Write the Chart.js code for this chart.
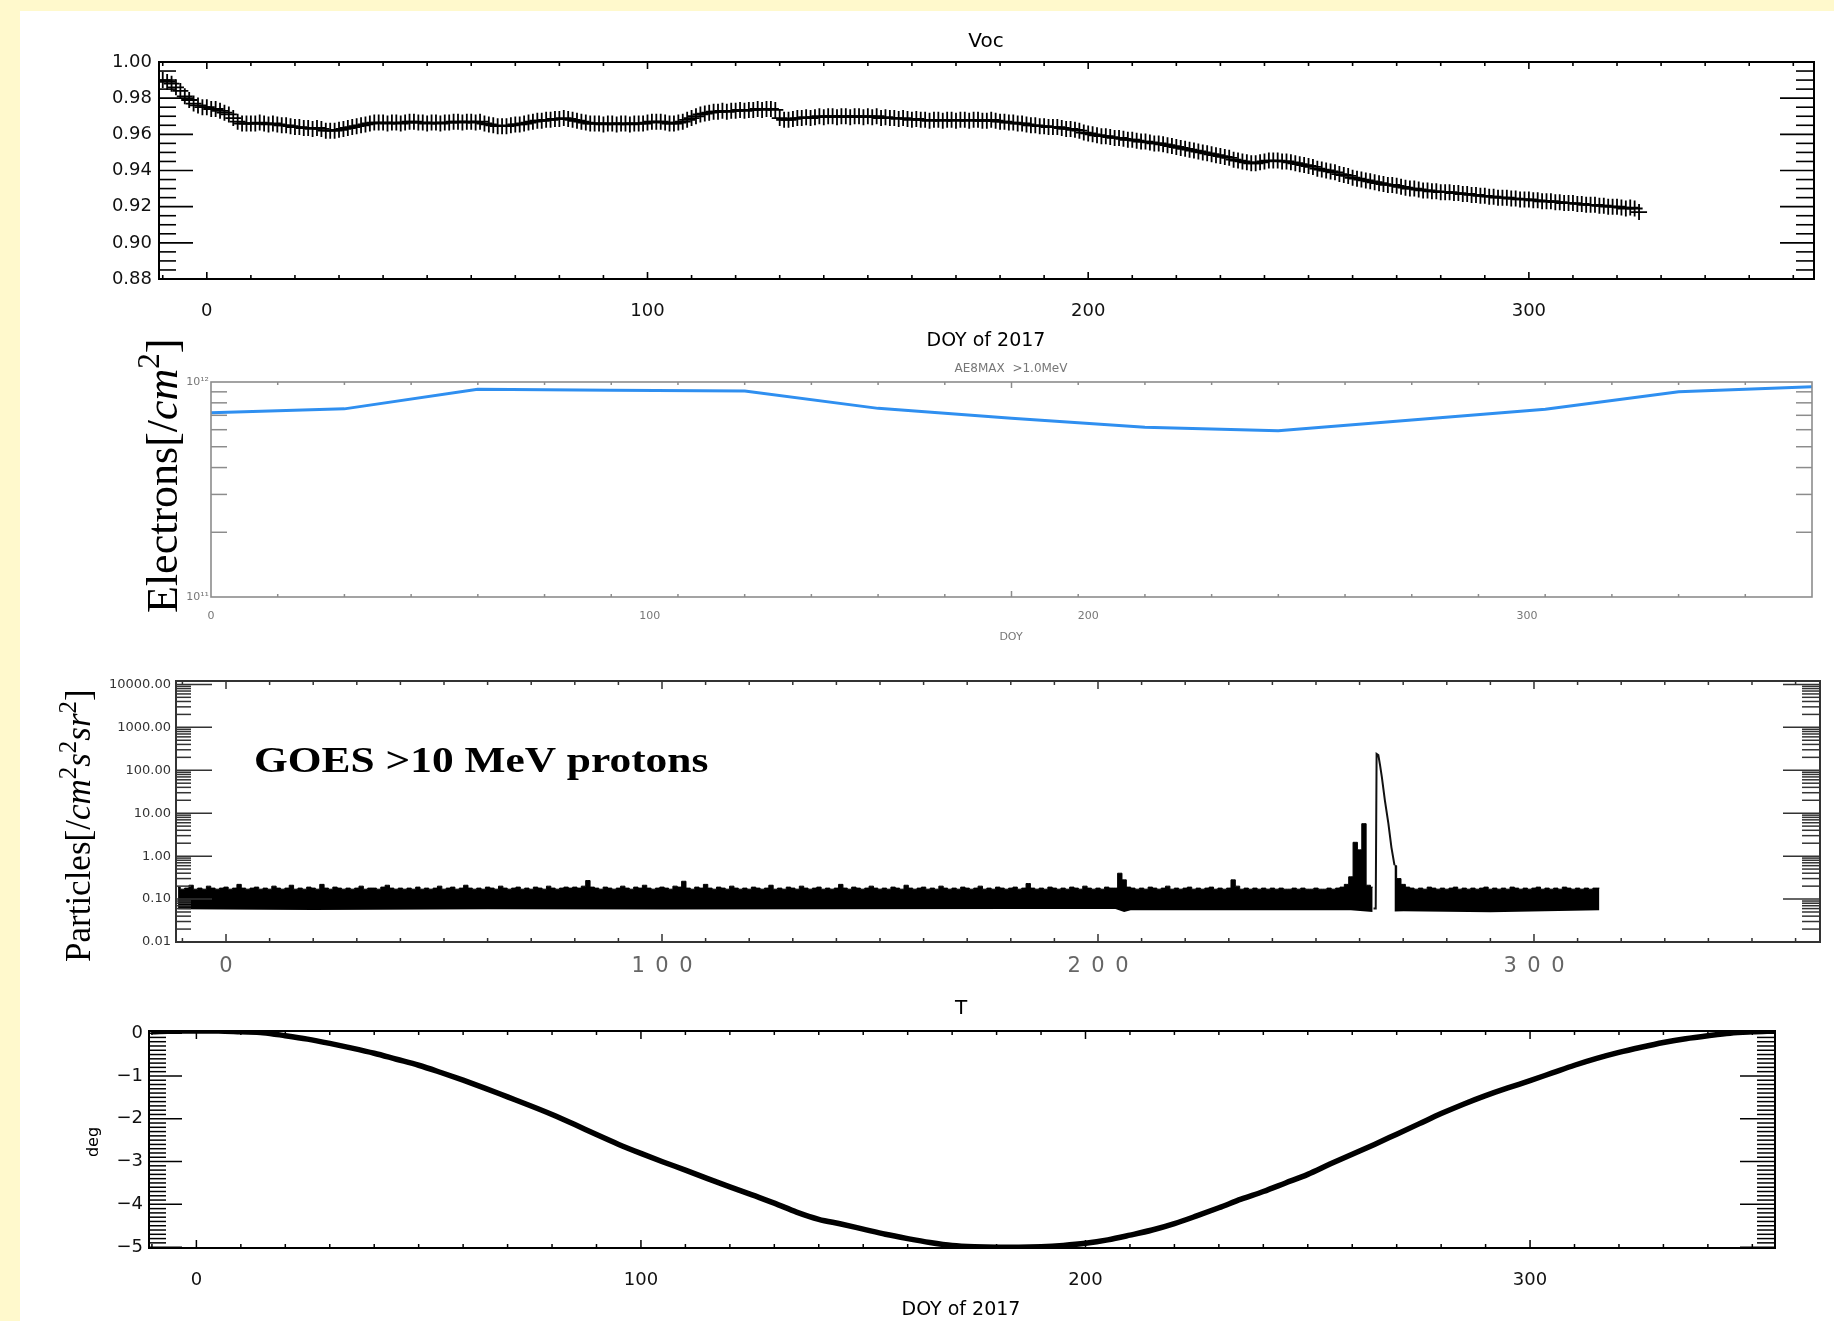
<!DOCTYPE html>
<html>
<head>
<meta charset="utf-8">
<title>Voc, AE8MAX, GOES protons and T over DOY 2017</title>
<script src="https://cdn.jsdelivr.net/npm/chart.js@4.4.1/dist/chart.umd.min.js"></script>
<style>
  html, body { margin: 0; padding: 0; background: #fff; }
  #page { position: relative; width: 1834px; height: 1321px; background: #fff; overflow: hidden; }
  .strip { position: absolute; background: #fff9cc; }
  canvas { position: absolute; left: 0; top: 0; }
</style>
</head>
<body>
<div id="page">
  <div class="strip" style="left:0;top:0;width:1834px;height:11px"></div>
  <div class="strip" style="left:0;top:0;width:20px;height:1321px"></div>
  <canvas id="vocChart" width="1834" height="1321"></canvas>
  <canvas id="aeChart" width="1834" height="1321"></canvas>
  <canvas id="goesChart" width="1834" height="1321"></canvas>
  <canvas id="tChart" width="1834" height="1321"></canvas>
</div>
<script>
// ---- data ----

// Voc, one value per day starting at DOY -10
const vocFirstDoy = -10;
const vocValues = [
  0.990, 0.989, 0.988, 0.986, 0.984, 0.981, 0.979, 0.977, 0.976, 0.975,
  0.975, 0.974, 0.974, 0.973, 0.972, 0.971, 0.969, 0.967, 0.966, 0.966,
  0.966, 0.966, 0.9665, 0.966, 0.9655, 0.966, 0.9655, 0.965, 0.965, 0.9645,
  0.964, 0.964, 0.9635, 0.9635, 0.963, 0.9635, 0.963, 0.962, 0.962, 0.962,
  0.9625, 0.963, 0.9635, 0.964, 0.9645, 0.965, 0.9655, 0.966, 0.9665, 0.9665,
  0.9665, 0.966, 0.9665, 0.9665, 0.966, 0.9665, 0.967, 0.967, 0.9665, 0.9665,
  0.966, 0.9665, 0.9665, 0.966, 0.9665, 0.9665, 0.967, 0.967, 0.9665, 0.967,
  0.967, 0.9665, 0.967, 0.966, 0.9655, 0.965, 0.9645, 0.9645, 0.9645, 0.965,
  0.9655, 0.9655, 0.966, 0.9665, 0.967, 0.9675, 0.9675, 0.968, 0.968, 0.9685,
  0.9685, 0.969, 0.9685, 0.968, 0.9675, 0.967, 0.9665, 0.966, 0.966, 0.966,
  0.9655, 0.966, 0.966, 0.9655, 0.966, 0.966, 0.9655, 0.966, 0.966, 0.966,
  0.9665, 0.967, 0.967, 0.967, 0.9665, 0.966, 0.966, 0.9665, 0.967, 0.968,
  0.969, 0.970, 0.971, 0.9715, 0.972, 0.9725, 0.9725, 0.973, 0.9725, 0.973,
  0.973, 0.9735, 0.973, 0.9735, 0.9735, 0.974, 0.9735, 0.974, 0.974, 0.9735,
  0.969, 0.968, 0.968, 0.9685, 0.969, 0.969, 0.9695, 0.969, 0.9695, 0.970,
  0.9695, 0.970, 0.970, 0.9695, 0.970, 0.970, 0.9695, 0.970, 0.970, 0.9695,
  0.970, 0.9695, 0.970, 0.969, 0.9695, 0.969, 0.969, 0.9685, 0.969, 0.9685,
  0.968, 0.9685, 0.968, 0.968, 0.9675, 0.968, 0.968, 0.9675, 0.968, 0.968,
  0.9675, 0.968, 0.968, 0.9675, 0.968, 0.968, 0.9675, 0.9675, 0.968, 0.9675,
  0.967, 0.967, 0.9665, 0.9665, 0.966, 0.966, 0.9655, 0.965, 0.965, 0.9645,
  0.9645, 0.964, 0.964, 0.964, 0.9635, 0.963, 0.963, 0.9625, 0.962, 0.961,
  0.9605, 0.960, 0.9595, 0.959, 0.959, 0.9585, 0.958, 0.958, 0.9575, 0.957,
  0.957, 0.9565, 0.956, 0.956, 0.9555, 0.955, 0.955, 0.9545, 0.954, 0.9535,
  0.953, 0.9525, 0.952, 0.9515, 0.951, 0.9505, 0.950, 0.9495, 0.949, 0.9485,
  0.948, 0.9475, 0.947, 0.946, 0.9455, 0.945, 0.9445, 0.944, 0.944, 0.9445,
  0.945, 0.9455, 0.9455, 0.9455, 0.945, 0.945, 0.9445, 0.944, 0.9435, 0.943,
  0.9425, 0.942, 0.941, 0.9405, 0.940, 0.9395, 0.939, 0.938, 0.9375, 0.937,
  0.936, 0.9355, 0.935, 0.9345, 0.934, 0.9335, 0.933, 0.9325, 0.932, 0.932,
  0.9315, 0.931, 0.9305, 0.930, 0.930, 0.9295, 0.929, 0.929, 0.9285, 0.9285,
  0.928, 0.928, 0.928, 0.9275, 0.9275, 0.927, 0.927, 0.9265, 0.9265, 0.926,
  0.926, 0.9255, 0.9255, 0.925, 0.925, 0.925, 0.9245, 0.9245, 0.924, 0.924,
  0.924, 0.9235, 0.9235, 0.923, 0.923, 0.923, 0.9225, 0.9225, 0.922, 0.922,
  0.922, 0.9215, 0.9215, 0.921, 0.921, 0.921, 0.9205, 0.9205, 0.920, 0.920,
  0.920, 0.9195, 0.919, 0.9195, 0.919, 0.917
];
const vocTickValues = [0.88, 0.90, 0.92, 0.94, 0.96, 0.98, 1.00];
const vocTickLabels = ['0.88', '0.90', '0.92', '0.94', '0.96', '0.98', '1.00'];

// AE8MAX >1.0 MeV electron fluence, monthly knots
const aeDoy = [0, 30.4, 60.8, 91.25, 121.7, 152.1, 182.5, 212.9, 243.3, 273.75, 304.2, 334.6, 365];
const aeFlux = [7.2e11, 7.5e11, 9.25e11, 9.15e11, 9.07e11, 7.54e11, 6.78e11, 6.16e11, 5.94e11, 6.66e11, 7.47e11, 9.0e11, 9.5e11];
const aeTickValues = [1e11, 1e12];
const aeTickLabels = ['10\u00b9\u00b9', '10\u00b9\u00b2'];

// GOES >10 MeV protons: daily maximum from DOY -11 (null where only the event trace is shown)
const goesFirstDoy = -11;
const goesHigh = [
  0.19, 0.17, 0.18, 0.21, 0.17, 0.18, 0.17, 0.20, 0.18, 0.17,
  0.18, 0.19, 0.17, 0.18, 0.22, 0.18, 0.17, 0.18, 0.19, 0.17,
  0.18, 0.17, 0.20, 0.18, 0.17, 0.18, 0.21, 0.17, 0.18, 0.17,
  0.19, 0.18, 0.17, 0.22, 0.18, 0.17, 0.19, 0.18, 0.17, 0.18,
  0.17, 0.18, 0.20, 0.17, 0.18, 0.18, 0.17, 0.19, 0.21, 0.18,
  0.17, 0.18, 0.17, 0.18, 0.17, 0.19, 0.17, 0.18, 0.17, 0.18,
  0.20, 0.17, 0.18, 0.19, 0.17, 0.18, 0.21, 0.18, 0.17, 0.18,
  0.17, 0.19, 0.18, 0.17, 0.20, 0.18, 0.17, 0.18, 0.19, 0.17,
  0.18, 0.17, 0.19, 0.18, 0.17, 0.20, 0.18, 0.17, 0.18, 0.19,
  0.18, 0.19, 0.18, 0.20, 0.27, 0.19, 0.18, 0.17, 0.19, 0.18,
  0.17, 0.18, 0.20, 0.18, 0.17, 0.19, 0.18, 0.21, 0.18, 0.17,
  0.18, 0.19, 0.18, 0.17, 0.20, 0.19, 0.26, 0.18, 0.17, 0.19,
  0.18, 0.22, 0.18, 0.17, 0.19, 0.18, 0.17, 0.20, 0.18, 0.17,
  0.18, 0.17, 0.19, 0.18, 0.17, 0.18, 0.21, 0.17, 0.18, 0.17,
  0.19, 0.18, 0.17, 0.20, 0.18, 0.17, 0.18, 0.19, 0.17, 0.18,
  0.17, 0.18, 0.22, 0.18, 0.17, 0.19, 0.18, 0.17, 0.18, 0.20,
  0.18, 0.17, 0.18, 0.17, 0.19, 0.18, 0.17, 0.21, 0.18, 0.17,
  0.18, 0.19, 0.17, 0.18, 0.17, 0.20, 0.18, 0.17, 0.18, 0.17,
  0.19, 0.18, 0.17, 0.18, 0.20, 0.17, 0.18, 0.17, 0.19, 0.18,
  0.17, 0.18, 0.19, 0.17, 0.18, 0.23, 0.18, 0.17, 0.18, 0.17,
  0.19, 0.18, 0.17, 0.18, 0.17, 0.19, 0.18, 0.17, 0.20, 0.18,
  0.17, 0.18, 0.17, 0.19, 0.18, 0.18, 0.40, 0.28, 0.19, 0.18,
  0.17, 0.18, 0.17, 0.19, 0.18, 0.17, 0.18, 0.20, 0.17, 0.18,
  0.17, 0.18, 0.19, 0.17, 0.18, 0.17, 0.18, 0.19, 0.17, 0.18,
  0.17, 0.18, 0.28, 0.20, 0.17, 0.18, 0.17, 0.18, 0.17, 0.18,
  0.17, 0.18, 0.17, 0.18, 0.17, 0.17, 0.18, 0.17, 0.18, 0.17,
  0.17, 0.18, 0.17, 0.17, 0.18, 0.17, 0.18, 0.19, 0.22, 0.33,
  2.1, 1.4, 5.7, 0.21, 0.19, null, null, null, null, 0.60,
  0.30, 0.22, 0.19, 0.18, 0.17, 0.18, 0.17, 0.19, 0.18, 0.17,
  0.18, 0.17, 0.18, 0.19, 0.17, 0.18, 0.17, 0.18, 0.17, 0.18,
  0.19, 0.17, 0.18, 0.17, 0.18, 0.17, 0.19, 0.18, 0.17, 0.18,
  0.17, 0.18, 0.19, 0.17, 0.18, 0.17, 0.18, 0.17, 0.19, 0.18,
  0.17, 0.18, 0.17, 0.18, 0.17, 0.18, 0.18
];
// lower edge of the background band
const goesLowDoy = [-11, 20, 60, 100, 140, 180, 204, 206, 207.5, 230, 258, 263, 270, 290, 315];
const goesLowFlux = [0.058, 0.056, 0.058, 0.057, 0.058, 0.059, 0.059, 0.050, 0.055, 0.055, 0.055, 0.050, 0.052, 0.049, 0.055];
// the proton event trace around DOY 264
const peakDoy = [263.2, 263.7, 263.9, 264.3, 264.7, 265.1, 265.8, 266.6, 267.3, 268.0];
const peakFlux = [0.06, 0.06, 240, 225, 130, 70, 20, 5.8, 1.6, 0.62];
const goesTickValues = [0.01, 0.1, 1, 10, 100, 1000, 10000];
const goesTickLabels = ['0.01', '0.10', '1.00', '10.00', '100.00', '1000.00', '10000.00'];

// T in degrees, every 5 days from DOY -10
const tFirstDoy = -10;
const tStep = 5;
const tValues = [
  0.03, 0.05, 0.05, 0.05, 0.03, 0.01, -0.06, -0.14, -0.24, -0.35,
  -0.47, -0.61, -0.75, -0.92, -1.10, -1.29, -1.49, -1.69, -1.90, -2.13,
  -2.37, -2.60, -2.81, -3.01, -3.20, -3.40, -3.59, -3.78, -3.97, -4.18,
  -4.35, -4.46, -4.58, -4.70, -4.80, -4.89, -4.96, -4.99, -5.00, -5.00,
  -4.99, -4.96, -4.91, -4.83, -4.72, -4.60, -4.45, -4.27, -4.08, -3.88,
  -3.70, -3.50, -3.30, -3.06, -2.83, -2.60, -2.36, -2.12, -1.88, -1.66,
  -1.46, -1.28, -1.11, -0.93, -0.75, -0.59, -0.45, -0.33, -0.22, -0.13,
  -0.06, 0.00, 0.03, 0.05
];
const tTickValues = [-5, -4, -3, -2, -1, 0];
const tTickLabels = ['\u22125', '\u22124', '\u22123', '\u22122', '\u22121', '0'];

const doyTickValues = [0, 100, 200, 300];
const doyTickLabels = ['0', '100', '200', '300'];

// ---- helpers ----
const PAGE_W = 1834, PAGE_H = 1321;
const IDL = '"DejaVu Sans", "Liberation Sans", sans-serif';
const SERIF = '"Liberation Serif", "DejaVu Serif", serif';

function steps(from, to, step) {
  const out = [];
  for (let v = from; v <= to + 1e-9; v += step) out.push(+v.toFixed(6));
  return out;
}
function isMultiple(v, step) {
  return Math.abs(v / step - Math.round(v / step)) < 1e-6;
}
function logMinors(fromExp, toExp) {
  const out = [];
  for (let e = fromExp; e < toExp; e++)
    for (let m = 2; m <= 9; m++) out.push(m * Math.pow(10, e));
  return out;
}

function axis(o) {
  return {
    type: o.type || 'linear',
    min: o.min,
    max: o.max,
    grid: { display: false, drawTicks: false },
    border: { display: false },
    afterBuildTicks: s => { s.ticks = o.values.map(v => ({ value: v })); },
    afterFit: s => { if (o.vertical) s.width = o.size; else s.height = o.size; },
    ticks: {
      autoSkip: false,
      maxRotation: 0,
      padding: o.padding,
      color: o.color,
      font: o.font,
      callback: (v, i) => o.format ? o.format(o.labels[i]) : o.labels[i]
    }
  };
}

function chartOptions(box, x, y) {
  return {
    responsive: false,
    animation: false,
    devicePixelRatio: 1,
    events: [],
    layout: { padding: { left: 0, top: box.top, right: PAGE_W - box.right, bottom: PAGE_H - box.bottom - box.xh } },
    plugins: { legend: { display: false }, tooltip: { enabled: false } },
    scales: { x, y }
  };
}

// box frame plus inward tick marks on all four sides
function framePlugin(f) {
  return {
    id: 'frame',
    afterDatasetsDraw(chart) {
      const { ctx, chartArea: a, scales: { x, y } } = chart;
      const seg = (x1, y1, x2, y2) => { ctx.beginPath(); ctx.moveTo(x1, y1); ctx.lineTo(x2, y2); ctx.stroke(); };
      ctx.save();
      ctx.strokeStyle = f.tickColor;
      ctx.lineWidth = f.tickWidth;
      for (const t of f.xTicks) {
        const px = x.getPixelForValue(t.v);
        if (px < a.left || px > a.right) continue;
        seg(px, a.bottom, px, a.bottom - t.len);
        seg(px, a.top, px, a.top + t.len);
      }
      for (const t of f.yTicks) {
        const py = y.getPixelForValue(t.v);
        if (py < a.top - 0.5 || py > a.bottom + 0.5) continue;
        seg(a.left, py, a.left + t.left, py);
        seg(a.right, py, a.right - t.right, py);
      }
      ctx.strokeStyle = f.frameColor;
      ctx.lineWidth = f.frameWidth;
      ctx.strokeRect(a.left, a.top, a.right - a.left, a.bottom - a.top);
      ctx.restore();
    }
  };
}

// free text: titles, axis names, annotation
function textPlugin(items) {
  return {
    id: 'texts',
    afterDraw(chart) {
      const ctx = chart.ctx;
      for (const it of items) {
        ctx.save();
        ctx.translate(it.x, it.y);
        if (it.rotate) ctx.rotate(it.rotate);
        if (it.hscale) ctx.scale(it.hscale, 1);
        ctx.textBaseline = it.baseline || 'alphabetic';
        ctx.textAlign = 'left';
        ctx.fillStyle = it.color || '#000';
        const parts = it.parts || [{ t: it.text }];
        let total = 0;
        for (const p of parts) { ctx.font = p.font || it.font; total += ctx.measureText(p.t).width; }
        let cx = it.align === 'center' ? -total / 2 : 0;
        for (const p of parts) {
          ctx.font = p.font || it.font;
          ctx.fillText(p.t, cx, p.dy || 0);
          cx += ctx.measureText(p.t).width;
        }
        ctx.restore();
      }
    }
  };
}

function dayTicks(from, to, minorLen, majorLen) {
  return steps(from, to, 10).map(v => ({ v, len: isMultiple(v, 100) ? majorLen : minorLen }));
}

// ---- panel 1: Voc ----
const vocBox = { left: 159, top: 62, right: 1814, bottom: 279, xh: 50 };
new Chart(document.getElementById('vocChart'), {
  type: 'line',
  data: {
    datasets: [{
      data: vocValues.map((v, i) => ({ x: vocFirstDoy + i, y: v })),
      showLine: false,
      pointStyle: 'cross',
      pointRadius: 8,
      pointBorderWidth: 1.8,
      pointBorderColor: '#000',
      borderColor: '#000'
    }]
  },
  options: chartOptions(vocBox,
    axis({ min: -10.85, max: 364.7, values: doyTickValues, labels: doyTickLabels, size: vocBox.xh,
           padding: 22, color: '#111', font: { family: IDL, size: 18 } }),
    axis({ min: 0.88, max: 1.0, values: vocTickValues, labels: vocTickLabels, size: vocBox.left, vertical: true,
           padding: 7, color: '#111', font: { family: IDL, size: 18 } })),
  plugins: [
    framePlugin({
      frameColor: '#000', frameWidth: 2, tickColor: '#000', tickWidth: 1.6,
      xTicks: dayTicks(-10, 360, 4, 7),
      yTicks: steps(0.88, 1.0, 0.005).map(v => isMultiple(v, 0.02) ? { v, left: 34, right: 34 } : { v, left: 17, right: 18 })
    }),
    textPlugin([
      { text: 'Voc', x: 986, y: 42, align: 'center', baseline: 'middle', font: '20px ' + IDL },
      { text: 'DOY of 2017', x: 986, y: 341, align: 'center', baseline: 'middle', font: '19px ' + IDL }
    ])
  ]
});

// ---- panel 2: AE8MAX electrons ----
const aeBox = { left: 211, top: 382, right: 1812, bottom: 597, xh: 30 };
new Chart(document.getElementById('aeChart'), {
  type: 'line',
  data: {
    datasets: [{
      data: aeDoy.map((d, i) => ({ x: d, y: aeFlux[i] })),
      borderColor: '#2f8ff0',
      borderWidth: 3,
      pointRadius: 0,
      tension: 0
    }]
  },
  options: chartOptions(aeBox,
    axis({ min: 0, max: 365, values: doyTickValues, labels: doyTickLabels, size: aeBox.xh,
           padding: 13, color: '#777', font: { family: IDL, size: 11 } }),
    axis({ type: 'logarithmic', min: 1e11, max: 1e12, values: aeTickValues, labels: aeTickLabels, size: aeBox.left,
           vertical: true, padding: 2, color: '#777', font: { family: IDL, size: 11 } })),
  plugins: [
    framePlugin({
      frameColor: '#8c8c8c', frameWidth: 1.6, tickColor: '#8c8c8c', tickWidth: 1.5,
      xTicks: steps(1, 23, 1).map(k => ({ v: k * 365 / 24, len: k === 12 ? 6 : 3 })),
      yTicks: logMinors(11, 12).map(v => ({ v, left: 16, right: 16 }))
    }),
    textPlugin([
      { text: 'AE8MAX  >1.0MeV', x: 1011, y: 369, align: 'center', baseline: 'middle', color: '#777', font: '12px ' + IDL },
      { text: 'DOY', x: 1011, y: 637, align: 'center', baseline: 'middle', color: '#777', font: '11px ' + IDL },
      { x: 177, y: 613, rotate: -Math.PI / 2, color: '#000', parts: [
        { t: 'Electrons[/', font: '44px ' + SERIF },
        { t: 'cm', font: 'italic 44px ' + SERIF },
        { t: '2', font: '31px ' + SERIF, dy: -18 },
        { t: ']', font: '44px ' + SERIF }
      ] }
    ])
  ]
});

// ---- panel 3: GOES >10 MeV protons ----
const goesBox = { left: 176, top: 681, right: 1820, bottom: 942, xh: 40 };
new Chart(document.getElementById('goesChart'), {
  type: 'line',
  data: {
    datasets: [
      {
        data: goesHigh.map((v, i) => ({ x: goesFirstDoy + i, y: v })),
        borderColor: '#000',
        borderWidth: 1,
        backgroundColor: '#000',
        fill: '+1',
        pointRadius: 0,
        spanGaps: false,
        stepped: 'middle'
      },
      {
        data: goesLowDoy.map((d, i) => ({ x: d, y: goesLowFlux[i] })),
        borderWidth: 0,
        pointRadius: 0,
        fill: false,
        tension: 0
      },
      {
        data: peakDoy.map((d, i) => ({ x: d, y: peakFlux[i] })),
        borderColor: '#111',
        borderWidth: 2,
        pointRadius: 0,
        fill: false,
        tension: 0
      }
    ]
  },
  options: chartOptions(goesBox,
    axis({ min: -11.47, max: 365.6, values: doyTickValues, labels: doyTickLabels, size: goesBox.xh,
           padding: 12, color: '#666', font: { family: IDL, size: 21 }, format: s => s.split('').join('\u2002') }),
    axis({ type: 'logarithmic', min: 0.01, max: 12000, values: goesTickValues, labels: goesTickLabels, size: goesBox.left,
           vertical: true, padding: 5, color: '#333', font: { family: IDL, size: 13 } })),
  plugins: [
    framePlugin({
      frameColor: '#333', frameWidth: 2, tickColor: '#333', tickWidth: 1.5,
      xTicks: dayTicks(-10, 360, 4, 8),
      yTicks: goesTickValues.map(v => ({ v, left: 36, right: 37 }))
        .concat(logMinors(-2, 4).map(v => ({ v, left: 15, right: 18 })))
    }),
    textPlugin([
      { text: 'GOES >10 MeV protons', x: 254, y: 772, hscale: 1.24, font: 'bold 35px ' + SERIF },
      { x: 90, y: 962, rotate: -Math.PI / 2, parts: [
        { t: 'Particles[/', font: '35px ' + SERIF },
        { t: 'cm', font: 'italic 35px ' + SERIF },
        { t: '2', font: '25px ' + SERIF, dy: -14 },
        { t: 's', font: 'italic 35px ' + SERIF },
        { t: '2', font: '25px ' + SERIF, dy: -14 },
        { t: 'sr', font: 'italic 35px ' + SERIF },
        { t: '2', font: '25px ' + SERIF, dy: -14 },
        { t: ']', font: '35px ' + SERIF }
      ] }
    ])
  ]
});

// ---- panel 4: T ----
const tBox = { left: 149, top: 1031, right: 1775, bottom: 1248, xh: 50 };
new Chart(document.getElementById('tChart'), {
  type: 'line',
  data: {
    datasets: [{
      data: tValues.map((v, i) => ({ x: tFirstDoy + i * tStep, y: v })),
      borderColor: '#000',
      borderWidth: 5.5,
      pointRadius: 0,
      cubicInterpolationMode: 'monotone'
    }]
  },
  options: chartOptions(tBox,
    axis({ min: -10.66, max: 355.1, values: doyTickValues, labels: doyTickLabels, size: tBox.xh,
           padding: 22, color: '#111', font: { family: IDL, size: 18 } }),
    axis({ min: -5.02, max: 0.05, values: tTickValues, labels: tTickLabels, size: tBox.left, vertical: true,
           padding: 6, color: '#111', font: { family: IDL, size: 18 } })),
  plugins: [
    framePlugin({
      frameColor: '#000', frameWidth: 2, tickColor: '#000', tickWidth: 1.5,
      xTicks: dayTicks(-10, 350, 4, 8),
      yTicks: steps(-5, 0, 0.1).map(v => isMultiple(v, 1) ? { v, left: 33, right: 35 } : { v, left: 17, right: 18 })
    }),
    textPlugin([
      { text: 'T', x: 961, y: 1009, align: 'center', baseline: 'middle', font: '20px ' + IDL },
      { text: 'DOY of 2017', x: 961, y: 1310, align: 'center', baseline: 'middle', font: '19px ' + IDL },
      { text: 'deg', x: 94, y: 1142, rotate: -Math.PI / 2, align: 'center', baseline: 'middle', font: '16px ' + IDL }
    ])
  ]
});
</script>
</body>
</html>
